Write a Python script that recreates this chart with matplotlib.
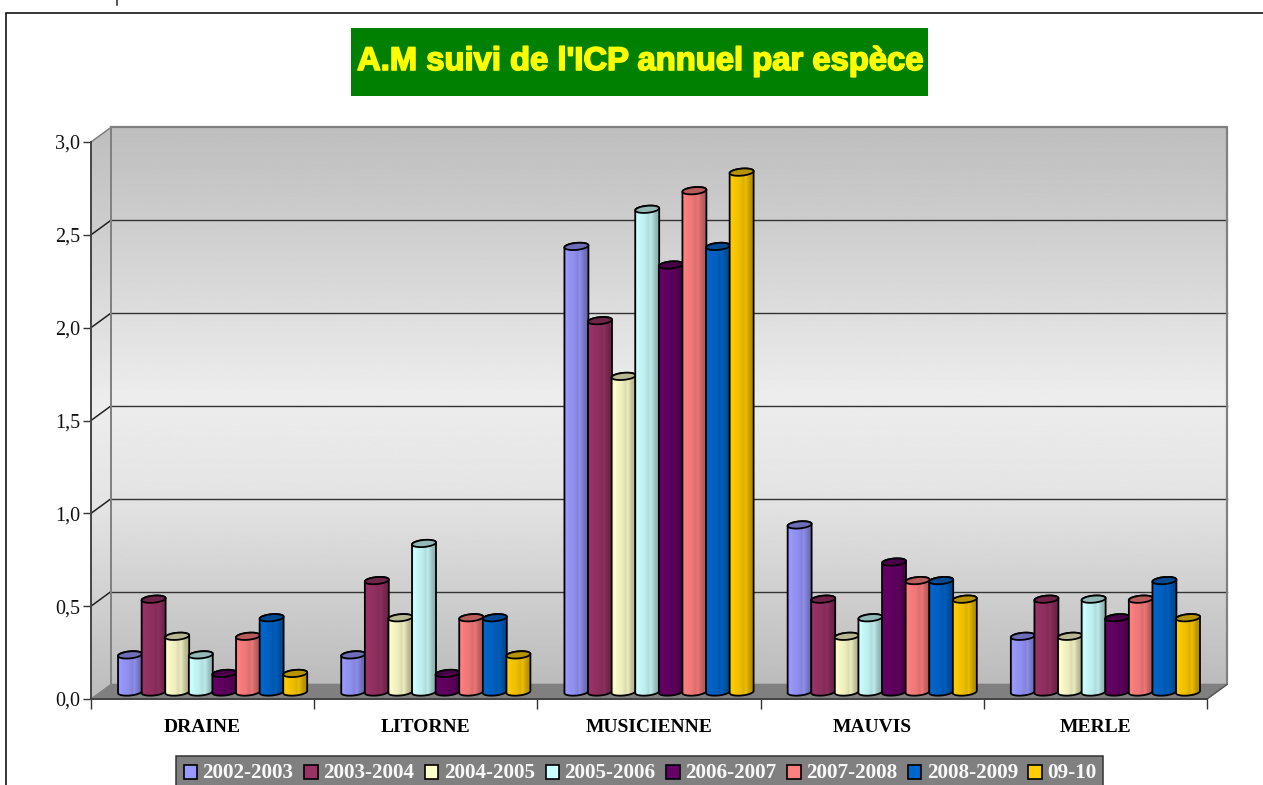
import numpy as np
import matplotlib
matplotlib.use("Agg")
import matplotlib.pyplot as plt
import matplotlib.patheffects as pe
from matplotlib.colors import to_rgb
from matplotlib.patches import Polygon, Rectangle

W, H = 1263, 785

# data
especes = ['DRAINE', 'LITORNE', 'MUSICIENNE', 'MAUVIS', 'MERLE']
saisons = ['2002-2003', '2003-2004', '2004-2005', '2005-2006',
           '2006-2007', '2007-2008', '2008-2009', '09-10']
couleurs = ['#9999FF', '#993366', '#FFFFCC', '#CCFFFF',
            '#660066', '#FF8080', '#0066CC', '#FFCC00']
draine = [0.2, 0.5, 0.3, 0.2, 0.1, 0.3, 0.4, 0.1]
litorne = [0.2, 0.6, 0.4, 0.8, 0.1, 0.4, 0.4, 0.2]
musicienne = [2.4, 2.0, 1.7, 2.6, 2.3, 2.7, 2.4, 2.8]
mauvis = [0.9, 0.5, 0.3, 0.4, 0.7, 0.6, 0.6, 0.5]
merle = [0.3, 0.5, 0.3, 0.5, 0.4, 0.5, 0.6, 0.4]
valeurs = [draine, litorne, musicienne, mauvis, merle]
yticks = [0.0, 0.5, 1.0, 1.5, 2.0, 2.5, 3.0]

fig = plt.figure(figsize=(W / 100, H / 100), dpi=100)

# calque en pixels pour le cadre, le titre et la legende
ov = fig.add_axes([0, 0, 1, 1], zorder=5)
ov.set_xlim(0, W)
ov.set_ylim(H, 0)
ov.axis('off')
ov.patch.set_alpha(0)

# axes du graphique, faces avant : x 91-1207, y 699-142
ax = fig.add_axes([91 / W, 1 - 699 / H, (1207 - 91) / W, (699 - 142) / H])
ax.patch.set_alpha(0)
for s in ax.spines.values():
    s.set_visible(False)

px_x = 5 / (1207 - 91)        # une unite pixel en categories
px_y = 3 / (699 - 142)        # une unite pixel en valeur
prof_x, prof_y = 20 * px_x, 14.6 * px_y

# fond en degrade
pos = np.array([0, 0.17, 0.48, 0.66, 1.0])
gris = np.array([0xbe, 0xcd, 0xed, 0xe4, 0xbc]) / 255
t = np.linspace(0, 1, 300)
fond = np.interp(t, pos, gris)[:, None]
ax.imshow(fond, cmap='gray', vmin=0, vmax=1, aspect='auto', zorder=1, clip_on=False,
          extent=[prof_x, 5 + prof_x, prof_y, 3 + prof_y])
# paroi gauche
im = ax.imshow(fond, cmap='gray', vmin=0, vmax=1, aspect='auto', zorder=1,
               extent=[0, prof_x, 0, 3 + prof_y])
paroi = Polygon([(0, 0), (prof_x, prof_y), (prof_x, 3 + prof_y), (0, 3)],
                closed=True, fc='none', ec='none', clip_on=False)
ax.add_patch(paroi)
im.set_clip_path(paroi)
im.set_clip_box(fig.bbox)

# sol
ax.add_patch(Polygon([(0, 0), (5, 0), (5 + prof_x, prof_y), (prof_x, prof_y)],
                     closed=True, fc='#808080', ec='#808080', lw=1, zorder=2, clip_on=False))

# quadrillage
for v in yticks:
    if 0 < v < 3:
        ax.plot([prof_x, 5 + prof_x], [v + prof_y] * 2, color='#333333', lw=1, zorder=3, clip_on=False)
    if v > 0:
        c = '#808080' if v == 3 else '#222222'
        ax.plot([0, prof_x], [v, v + prof_y], color=c, lw=1.1, zorder=3, clip_on=False)

# bords des parois
gr = '#808080'
ax.plot([prof_x, prof_x], [prof_y, 3 + prof_y], color=gr, lw=1.4, zorder=3, clip_on=False)
ax.plot([prof_x, 5 + prof_x, 5 + prof_x], [3 + prof_y, 3 + prof_y, prof_y], color=gr, lw=1.6, zorder=3, clip_on=False)
ax.plot([5, 5 + prof_x], [0, prof_y], color='#555555', lw=1, zorder=3, clip_on=False)
ax.plot([0, 0], [0, 3], color='#444444', lw=1.4, zorder=4, clip_on=False)
ax.plot([0, 5], [0, 0], color='#444444', lw=1.4, zorder=4, clip_on=False)

pas = 23.6 * px_x
rx = 12 * px_x
ry = 3.5 * px_y
base = 7 * px_y
dx0 = 10 * px_x


def ellipse(cx, cy, n=40):
    a = np.linspace(0, 2 * np.pi, n)
    return cx + rx * np.cos(a), cy + ry * (np.sin(a) + 0.3 * np.cos(a))


g_pos = [0, 0.1, 0.2, 0.42, 0.58, 0.66, 0.85, 1.0]
g_val = [0.96, 1.0, 0.97, 0.93, 0.86, 0.93, 0.75, 0.68]
g = np.interp(np.linspace(0, 1, 48), g_pos, g_val)

z = 10
for k, groupe in enumerate(valeurs):
    for i, v in enumerate(groupe):
        cx = k + 0.5 + dx0 + (i - 3.5) * pas
        top = base + v
        col = np.array(to_rgb(couleurs[i]))
        # corps du cylindre
        xb, yb = ellipse(cx, base)
        xt, yt = ellipse(cx, top)
        m = xb.size // 2
        px = np.concatenate([xb[m:], xt[:m + 1]])
        py = np.concatenate([yb[m:], yt[:m + 1]])
        img = (col[None, None, :] * g[None, :, None]).clip(0, 1)
        im = ax.imshow(img, aspect='auto', zorder=z,
                       extent=[cx - rx, cx + rx, base - 2 * ry, top + 2 * ry])
        corps = Polygon(np.column_stack([px, py]), closed=True, fc='none',
                        ec='black', lw=1.3, zorder=z + 0.1, joinstyle='round', clip_on=False)
        ax.add_patch(corps)
        im.set_clip_path(corps)
        # dessus
        ax.add_patch(Polygon(np.column_stack([xt, yt]), closed=True, fc=col * 0.72,
                             ec='black', lw=1.3, zorder=z + 0.2, clip_on=False))
        z += 1

ax.set_xlim(0, 5)
ax.set_ylim(0, 3)
ax.set_yticks(yticks)
ax.set_yticklabels([f'{v:.1f}'.replace('.', ',') for v in yticks],
                   family='Liberation Serif', fontsize=14.5, color='#111111')
ax.set_xticks(range(6))
ax.set_xticklabels([])
ax.set_xticks(np.arange(5) + 0.5, minor=True)
ax.set_xticklabels(especes, minor=True, family='Liberation Serif',
                   fontweight='bold', fontsize=14, color='black')
ax.tick_params(axis='y', length=6, width=1, color='#333333', pad=2)
ax.tick_params(axis='x', which='major', length=7, width=1, color='#333333')
ax.tick_params(axis='x', which='minor', length=0, pad=14.5)

# cadre exterieur
ov.plot([6, 6, W], [H, 12.5, 12.5], color='black', lw=1.1, solid_joinstyle='miter')
ov.plot([117, 117], [0, 5], color='#222222', lw=1.1)

# titre
ov.add_patch(Rectangle((351, 28), 577, 68, fc='#008000', ec='none'))
ov.text(640, 61.5, "A.M suivi de l'ICP annuel par espèce", ha='center', va='center',
        family='Liberation Sans', fontweight='bold', fontsize=23.6, color='#FFFF00',
        path_effects=[pe.withStroke(linewidth=1.2, foreground='#FFFF00')])

# legende
ov.add_patch(Rectangle((176, 755.5), 927, 40, fc='#808080', ec='#333333', lw=1.1))
for i, (s, c) in enumerate(zip(saisons, couleurs)):
    x = 183.5 + 120.7 * i
    ov.add_patch(Rectangle((x, 765), 13.5, 13.5, fc=c, ec='black', lw=1.2))
    ov.text(x + 19, 772.5, s, ha='left', va='center', family='Liberation Serif',
            fontweight='bold', fontsize=15.2, color='#F8F8F8')

fig.savefig('out.png', dpi=100)
